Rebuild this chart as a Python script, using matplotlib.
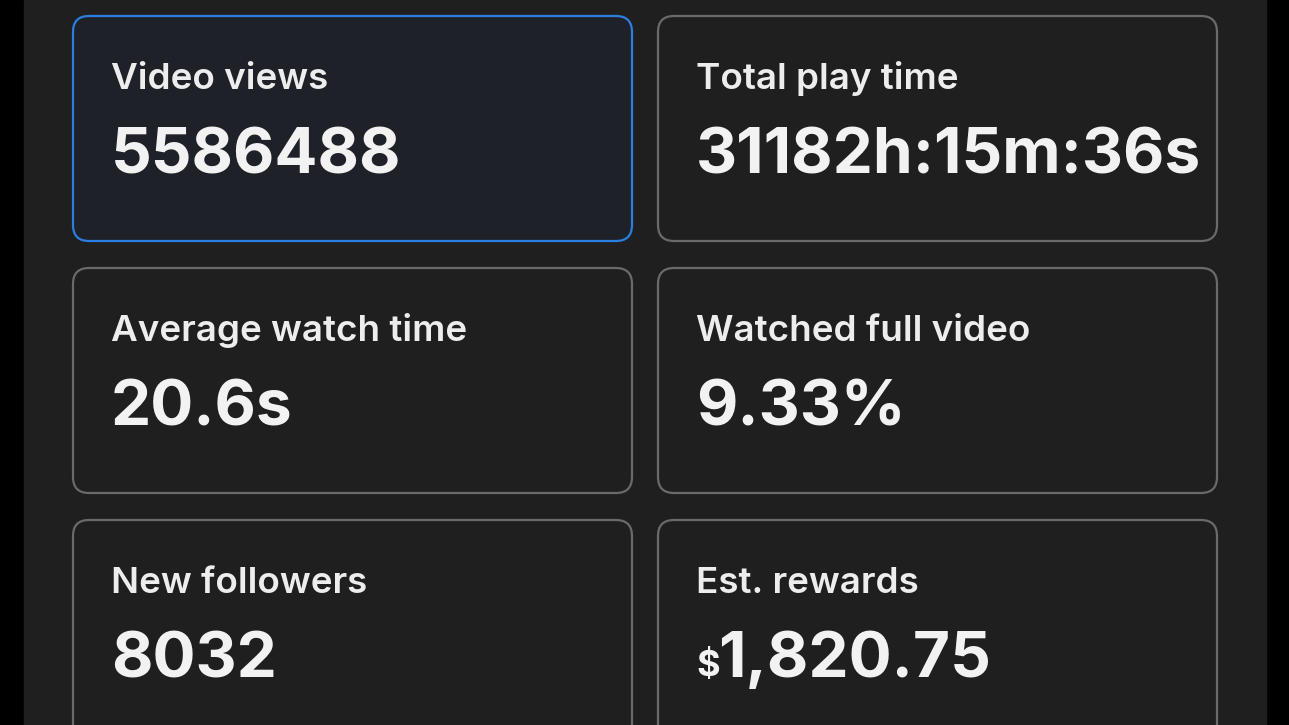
import matplotlib
matplotlib.use("Agg")
import matplotlib.pyplot as plt
from matplotlib.patches import FancyBboxPatch

W, H = 1289, 725
labels = ["Video views", "Total play time", "Average watch time",
          "Watched full video", "New followers", "Est. rewards"]
values = ["5586488", "31182h:15m:36s", "20.6s", "9.33%", "8032", "1,820.75"]
highlight = 0

FONT = "Inter"

fig = plt.figure(figsize=(W / 100, H / 100), dpi=100)
fig.patch.set_facecolor("black")
ax = fig.add_axes([0, 0, 1, 1])
ax.set_xlim(0, W)
ax.set_ylim(H, 0)
ax.axis("off")

ax.add_patch(plt.Rectangle((24, 0), 1242, H, color="#1f1f1f", zorder=0))

col_x = [73, 658]
row_y = [16, 268, 520]
cw, ch = 559, 225
for i, (lab, val) in enumerate(zip(labels, values)):
    x0 = col_x[i % 2]
    y0 = row_y[i // 2]
    if i == highlight:
        fc, ec = "#1e2127", "#2a7fe0"
    else:
        fc, ec = "#1f1f1f", "#6a6a6a"
    ax.add_patch(FancyBboxPatch((x0, y0), cw, ch,
                                boxstyle="round,pad=0,rounding_size=16",
                                fc=fc, ec=ec, lw=1.6, zorder=1))
    tx = x0 + 38
    ax.text(tx, y0 + 73, lab, color="#ededed", fontsize=26.5,
            family=FONT, weight="semibold", va="baseline", ha="left", zorder=2)
    if lab == "Est. rewards":
        ax.text(tx, y0 + 156, "\\$", color="#f2f2f2", fontsize=26,
                family=FONT, weight="bold", va="baseline", ha="left", zorder=2)
        tx += 22
    ax.text(tx, y0 + 157, val, color="#f2f2f2", fontsize=46,
            family=FONT, weight="bold", va="baseline", ha="left", zorder=2)

fig.savefig("out.png", dpi=100, facecolor=fig.get_facecolor())
